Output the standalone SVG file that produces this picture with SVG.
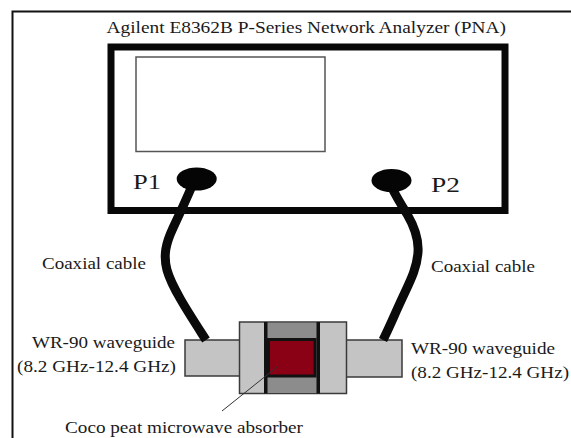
<svg xmlns="http://www.w3.org/2000/svg" width="571" height="438" viewBox="0 0 571 438">
<style>
text{font-family:"Liberation Serif","Times New Roman",serif;fill:#1a1a1a;font-size:17px}
.port{font-size:22px}
.cable{fill:none;stroke:#0a0a0a;stroke-width:9}
.wg{fill:#c4c4c4;stroke:#3a3a3a;stroke-width:1.5}
</style>
<rect width="571" height="438" fill="#fff"/>
<path d="M572 11.500H12.500V438" fill="none" stroke="#111" stroke-width="2"/>
<g id="title"><text x="106.500" y="33" textLength="399.500" lengthAdjust="spacingAndGlyphs">Agilent E8362B P-Series  Network Analyzer (PNA)</text></g>
<g id="analyzer">
<rect x="111" y="47" width="394" height="163.500" fill="#fff" stroke="#080808" stroke-width="7"/>
<rect x="136" y="57" width="189" height="94.500" fill="#fff" stroke="#555" stroke-width="1.500"/>
</g>
<g id="waveguide-left"><rect class="wg" x="185" y="340" width="56" height="36"/></g>
<g id="waveguide-right"><rect class="wg" x="345" y="340" width="57" height="37"/></g>
<g id="sample-holder">
<rect x="239.500" y="322" width="107" height="71.500" fill="#c4c4c4" stroke="#3a3a3a" stroke-width="1.500"/>
<rect x="266" y="323" width="52" height="70" fill="#8c8c8c"/>
<rect x="264" y="322" width="3.500" height="71.500" fill="#111"/>
<rect x="316.500" y="322" width="3.500" height="71.500" fill="#111"/>
<rect x="268.500" y="339.500" width="46.500" height="36.500" fill="#8a0014" stroke="#111" stroke-width="3"/>
</g>
<g id="connectors">
<path class="cable" d="M192 186C186 200 180 213 173 228C166 243 163 255 167 270C172 288 190 315 206 340"/>
<path class="cable" d="M391 186C396 196 402 206 407 214C414 226 419 238 418 252C417 270 408 285 400 303C394 316 389 328 383 340"/>
<path d="M277 367L222 411" fill="none" stroke="#333" stroke-width="1"/>
</g>
<g id="port-p1"><ellipse cx="196.700" cy="179" rx="20" ry="11.500" fill="#050505"/><text class="port" x="133" y="189" textLength="28" lengthAdjust="spacingAndGlyphs">P1</text></g>
<g id="port-p2"><ellipse cx="391.500" cy="180.500" rx="20" ry="11.500" fill="#050505"/><text class="port" x="431" y="192" textLength="29" lengthAdjust="spacingAndGlyphs">P2</text></g>
<g id="label-cable-left"><text x="42" y="269" textLength="104" lengthAdjust="spacingAndGlyphs">Coaxial cable</text></g>
<g id="label-cable-right"><text x="431" y="272" textLength="104" lengthAdjust="spacingAndGlyphs">Coaxial cable</text></g>
<g id="label-wg-left"><text x="32" y="348" textLength="143" lengthAdjust="spacingAndGlyphs">WR-90 waveguide</text><text x="17" y="372" textLength="159" lengthAdjust="spacingAndGlyphs">(8.2 GHz-12.4 GHz)</text></g>
<g id="label-wg-right"><text x="411" y="354" textLength="144" lengthAdjust="spacingAndGlyphs">WR-90 waveguide</text><text x="411" y="378" textLength="158" lengthAdjust="spacingAndGlyphs">(8.2 GHz-12.4 GHz)</text></g>
<g id="label-absorber"><text x="65" y="433" textLength="238" lengthAdjust="spacingAndGlyphs">Coco peat microwave absorber</text></g>
</svg>
